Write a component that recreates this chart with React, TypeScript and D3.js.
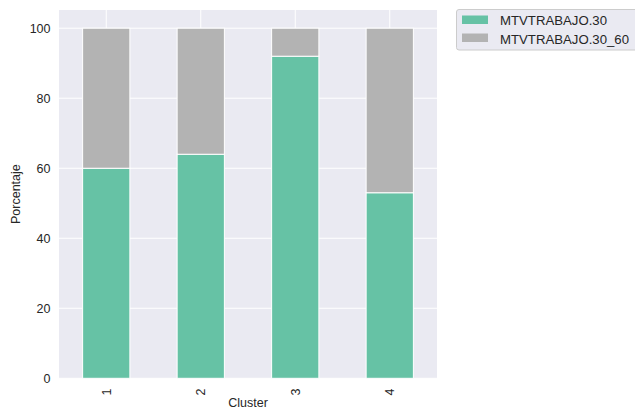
import React from "react";
import * as d3 from "d3";

const categories = ["1", "2", "3", "4"];
const seriesNames = ["MTVTRABAJO.30", "MTVTRABAJO.30_60"];
const values30 = [60, 64, 92, 53];
const values30_60 = [40, 36, 8, 47];
const yTicks = [0, 20, 40, 60, 80, 100];
const colors = ["#66c2a5", "#b3b3b3"];

export default function App() {
  const W = 635, H = 409;
  const left = 59, right = 437, top = 10, bottom = 378.3;
  const x = d3.scaleBand().domain(categories).range([left, right]).paddingInner(0.5).paddingOuter(0.25);
  const y = d3.scaleLinear().domain([0, 105.2]).range([bottom, top]);
  const xc = d3.scalePoint().domain(categories).range([left, right]).padding(0.5);
  const stackData = categories.map((c, i) => ({ c, a: values30[i], b: values30_60[i] }));
  const stack = d3.stack<any>().keys(["a", "b"])(stackData);
  const font = "'Liberation Sans', Arial, sans-serif";
  return (
    <svg width={W} height={H} style={{ position: "absolute", left: 0, top: 0 }} fontFamily={font}>
      <rect x={0} y={0} width={W} height={H} fill="#ffffff" />
      <rect x={left} y={top} width={right - left} height={bottom - top} fill="#eaeaf2" />
      {yTicks.map((t) => (
        <line key={"gy" + t} x1={left} x2={right} y1={y(t)} y2={y(t)} stroke="#ffffff" strokeWidth={1} />
      ))}
      {categories.map((c) => (
        <line key={"gx" + c} x1={xc(c)} x2={xc(c)} y1={top} y2={bottom} stroke="#ffffff" strokeWidth={1} />
      ))}
      {stack.map((layer, li) =>
        layer.map((d, i) => (
          <rect
            key={li + "-" + i}
            x={x(categories[i])}
            y={y(d[1])}
            width={x.bandwidth()}
            height={y(d[0]) - y(d[1])}
            fill={colors[li]}
            stroke="#ffffff"
            strokeWidth={1}
          />
        ))
      )}
      {yTicks.map((t) => (
        <text key={"ty" + t} x={50.5} y={y(t)} dy="0.35em" textAnchor="end" fontSize={12.5} fill="#262626">
          {t}
        </text>
      ))}
      {categories.map((c) => (
        <text
          key={"tx" + c}
          transform={`translate(${xc(c)! + 4.5},${388.5}) rotate(-90)`}
          textAnchor="end"
          fontSize={12.5}
          fill="#262626"
        >
          {c}
        </text>
      ))}
      <text x={(left + right) / 2} y={406.5} textAnchor="middle" fontSize={12.5} fill="#262626">
        Cluster
      </text>
      <text transform={`translate(20,${(top + bottom) / 2}) rotate(-90)`} textAnchor="middle" fontSize={12.5} fill="#262626">
        Porcentaje
      </text>
      <rect x={456.5} y={9.5} width={190} height={40.5} rx={2.5} fill="#eaeaf2" stroke="#cccccc" strokeWidth={1} />
      {seriesNames.map((s, i) => (
        <g key={s}>
          <rect x={462} y={15.5 + i * 18} width={26} height={8.5} fill={colors[i]} />
          <text x={500} y={20 + i * 19} dy="0.35em" fontSize={13.2} fill="#262626">
            {s}
          </text>
        </g>
      ))}
    </svg>
  );
}
